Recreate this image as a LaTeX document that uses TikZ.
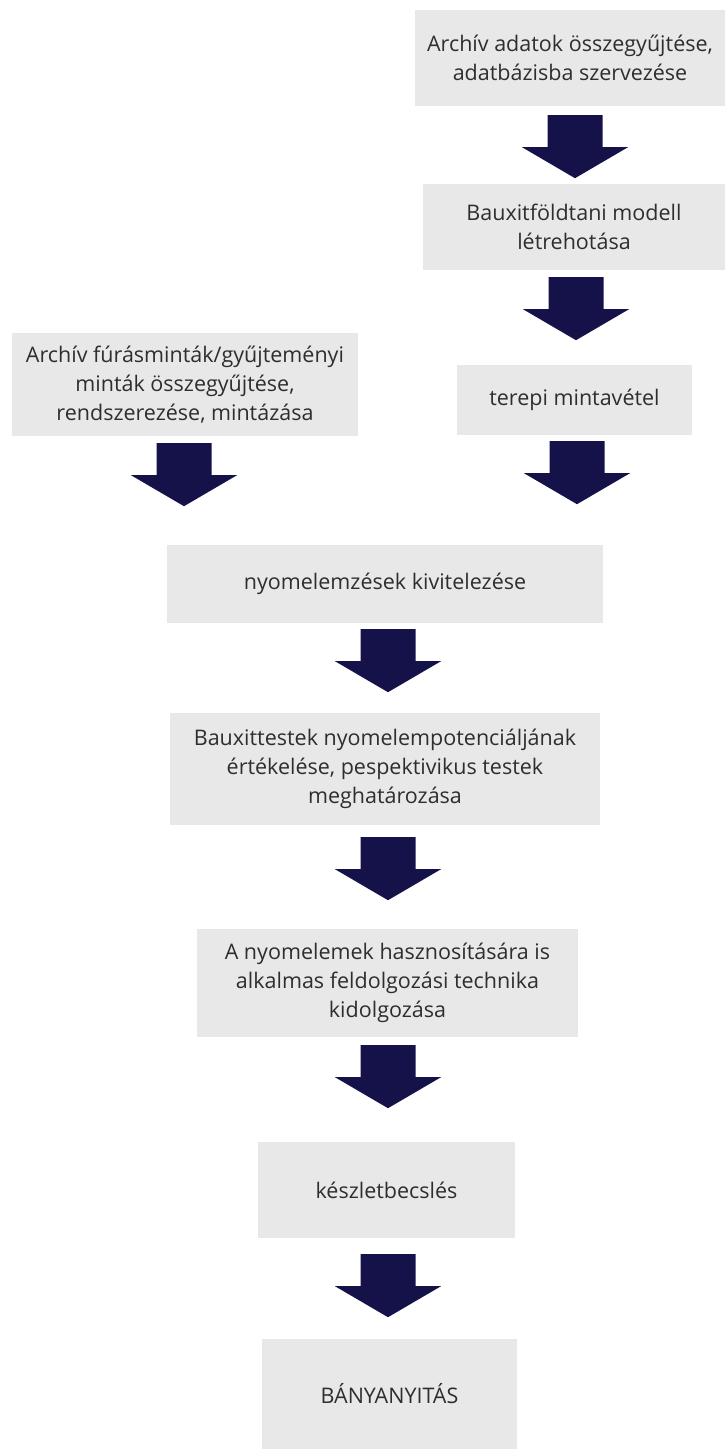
\documentclass[tikz,border=0pt]{standalone}
\usepackage{fontspec}
\setmainfont{Open Sans}
\usetikzlibrary{calc}
\definecolor{boxgray}{HTML}{E8E8E8}
\definecolor{arrownavy}{HTML}{15124A}
\definecolor{textgray}{HTML}{2E2E2E}
\begin{document}
\begin{tikzpicture}[x=1pt,y=-1pt,
  stepbox/.style={fill=boxgray, inner sep=0pt, align=center, text=textgray,
    font=\fontsize{21.5}{29}\selectfont},
  flowarrow/.pic={\fill[arrownavy] (-27.5,0) -- (27.5,0) -- (27.5,32) -- (53,32)
    -- (0,63) -- (-53,32) -- (-27.5,32) -- cycle;}]
\useasboundingbox[fill=white] (0,0) rectangle (725,1449);

% process steps
\node[stepbox, minimum width=310pt, minimum height=96pt] (archiv) at (570,58)
  {Archív adatok összegyűjtése,\\adatbázisba szervezése};
\node[stepbox, minimum width=302pt, minimum height=86pt] (modell) at (574,227)
  {Bauxitföldtani modell\\létrehotása};
\node[stepbox, minimum width=235pt, minimum height=70pt] (terepi) at (574.5,400)
  {terepi mintavétel};
\node[stepbox, minimum width=346pt, minimum height=103pt] (furas) at (185,384.5)
  {Archív fúrásminták/gyűjteményi\\minták összegyűjtése,\\rendszerezése, mintázása};
\node[stepbox, minimum width=436pt, minimum height=78pt] (nyom) at (385,584)
  {nyomelemzések kivitelezése};
\node[stepbox, minimum width=430pt, minimum height=112pt] (ertek) at (385,769)
  {Bauxittestek nyomelempotenciáljának\\értékelése, pespektivikus testek\\meghatározása};
\node[stepbox, minimum width=381pt, minimum height=108pt] (techn) at (387.5,983)
  {A nyomelemek hasznosítására is\\alkalmas feldolgozási technika\\kidolgozása};
\node[stepbox, minimum width=257pt, minimum height=96pt] (keszlet) at (386.5,1190)
  {készletbecslés};
\node[stepbox, minimum width=255pt, minimum height=110pt] (banya) at (389.5,1394)
  {BÁNYANYITÁS};

% block arrows hanging below each step
\pic at ($(archiv.south)+(5,9)$) {flowarrow};
\pic at ($(modell.south)+(2,7)$) {flowarrow};
\pic at ($(terepi.south)+(2.5,6)$) {flowarrow};
\pic at ($(furas.south)+(-1,7)$) {flowarrow};
\pic at ($(nyom.south)+(3,6)$) {flowarrow};
\pic at ($(ertek.south)+(3,12)$) {flowarrow};
\pic at ($(techn.south)+(0.5,8)$) {flowarrow};
\pic at ($(keszlet.south)+(1.5,16)$) {flowarrow};
\end{tikzpicture}
\end{document}
